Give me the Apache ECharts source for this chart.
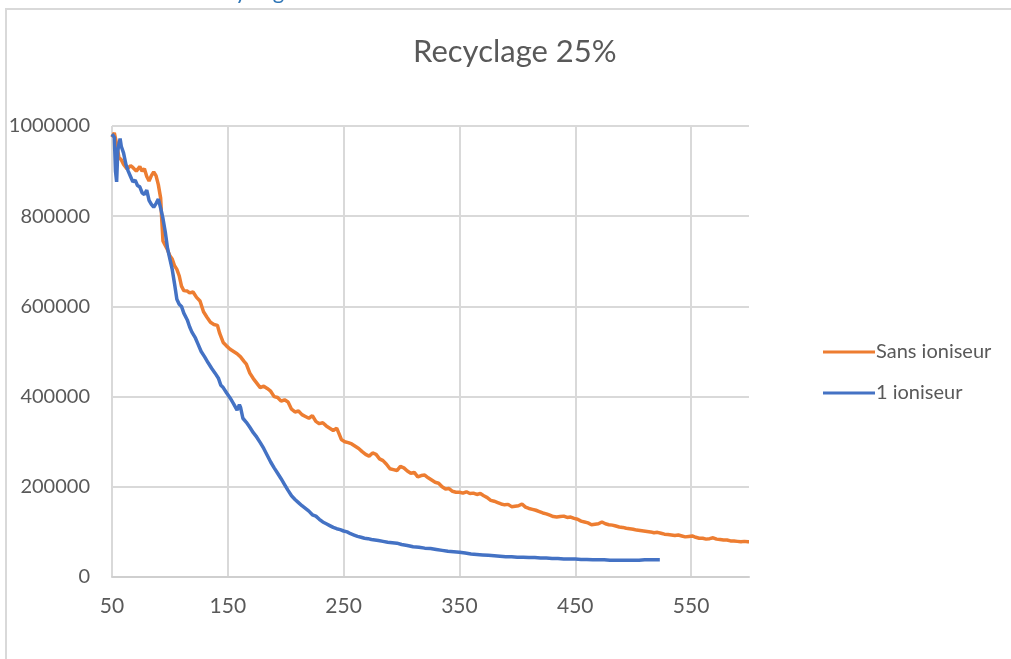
<!DOCTYPE html>
<html>
<head>
<meta charset="utf-8">
<script src="https://cdn.jsdelivr.net/npm/echarts@6/dist/echarts.min.js"></script>
<style>
html,body{margin:0;padding:0;background:#fff;}
#chart{width:1011px;height:659px;}
</style>
</head>
<body>
<div id="chart"></div>
<script>
var titleText = 'Recyclage 25%';
var seriesNames = ['Sans ioniseur', '1 ioniseur'];
var xTicks = [50, 150, 250, 350, 450, 550];
var yTicks = [0, 200000, 400000, 600000, 800000, 1000000];

var sansX = [50,52,54,56,58,60,63,66,68,71,74,76,78,80,82,84,86,88,90,92,93,94,96,98,100,102,104,106,108,110,112,115,117,120,123,126,129,132,135,138,141,143,146,149,152,155,158,161,164,166,169,172,175,178,181,184,187,190,193,196,199,202,205,208,211,214,217,220,223,226,229,232,235,238,241,244,246,248,251,254,257,260,263,266,269,272,275,278,281,284,287,290,293,296,299,302,305,308,311,314,317,320,323,326,329,332,335,338,341,344,347,350,353,356,359,362,365,368,371,374,377,380,383,386,389,392,395,398,401,404,407,410,413,416,419,422,425,428,431,434,437,440,443,446,449,452,455,458,461,464,467,470,473,476,479,482,485,488,491,494,497,500,503,506,509,512,515,518,521,524,527,530,533,536,539,542,545,548,551,554,557,560,563,566,569,572,575,578,581,584,587,590,593,596,599,600];
var sansY = [975000,985000,960000,930000,925000,915000,905000,912000,908000,900000,910000,900000,905000,888000,878000,890000,898000,890000,870000,840000,790000,745000,735000,725000,712000,705000,690000,682000,668000,645000,635000,634000,630000,632000,620000,612000,588000,576000,565000,560000,558000,540000,520000,512000,505000,500000,495000,488000,478000,472000,452000,440000,430000,420000,423000,418000,412000,400000,398000,390000,393000,388000,372000,366000,368000,360000,356000,352000,358000,345000,340000,342000,335000,330000,325000,330000,318000,305000,300000,298000,295000,290000,285000,278000,272000,268000,275000,272000,262000,258000,250000,240000,238000,236000,245000,242000,235000,230000,232000,222000,225000,226000,220000,215000,210000,208000,200000,195000,196000,190000,188000,188000,186000,189000,185000,186000,183000,185000,180000,176000,170000,168000,165000,162000,160000,161000,156000,157000,158000,162000,155000,152000,150000,148000,145000,142000,140000,137000,134000,133000,134000,135000,132000,133000,130000,128000,124000,122000,120000,116000,117000,118000,122000,118000,116000,115000,113000,111000,110000,108000,107000,106000,104000,103000,102000,101000,100000,98000,99000,97000,95000,94000,93000,92000,93000,91000,89000,90000,91000,88000,86000,86000,84000,85000,87000,84000,83000,82000,82000,80000,80000,79000,78000,79000,78000,78000];

var ionX = [50,51,52,53,54,55,56,57,58,60,62,64,66,68,70,72,74,76,78,80,82,84,86,88,90,92,94,96,98,100,102,104,106,108,110,112,115,117,119,122,124,127,130,133,136,139,142,144,146,149,152,155,158,160,161,163,166,169,172,175,178,181,184,187,190,193,196,199,202,205,208,211,214,217,220,223,226,229,232,235,238,241,244,247,250,253,256,259,262,265,268,271,274,277,280,284,288,292,296,300,305,310,315,320,325,330,335,340,345,350,355,360,365,370,375,380,385,390,395,400,405,410,415,420,425,430,435,440,445,450,455,460,465,470,475,480,485,490,495,500,505,510,515,520,523];
var ionY = [982000,985000,975000,900000,876000,945000,960000,972000,955000,940000,915000,900000,888000,876000,880000,868000,865000,852000,848000,858000,835000,826000,820000,828000,838000,818000,795000,765000,728000,705000,682000,650000,616000,605000,600000,585000,570000,555000,543000,530000,518000,500000,488000,475000,463000,452000,440000,425000,420000,408000,397000,384000,370000,382000,376000,352000,343000,332000,320000,310000,298000,285000,270000,255000,242000,230000,218000,205000,192000,180000,172000,165000,158000,152000,146000,138000,135000,128000,122000,118000,114000,110000,107000,105000,102000,100000,96000,93000,90000,88000,86000,85000,83000,82000,81000,79000,77000,76000,75000,72000,70000,67000,66000,64000,63000,61000,59000,57000,56000,55000,53000,51000,50000,49000,48000,47000,46000,45000,45000,44000,44000,43000,43000,42000,42000,41000,41000,40000,40000,40000,39000,39000,38000,38000,38000,37000,37000,37000,37000,37000,37000,38000,38000,38000,38000];

function zip(xs, ys) { return xs.map(function (x, i) { return [x, ys[i]]; }); }

var FONT = 'Lato';
var GRAY = '#595959';
var GRID = '#d9d9d9';

var chart = echarts.init(document.getElementById('chart'), null, {renderer: 'canvas'});
chart.setOption({
  animation: false,
  backgroundColor: '#ffffff',
  title: {
    text: titleText,
    left: 408,
    top: 31,
    textStyle: {fontFamily: FONT, fontSize: 31, fontWeight: 'normal', color: GRAY}
  },
  graphic: [
    {type: 'rect', shape: {x: 6, y: 9, width: 1020, height: 700}, style: {fill: 'none', stroke: GRID, lineWidth: 2}, silent: true},
    {type: 'text', x: 200, y: 3, style: {text: 'Recyclage', font: '22px ' + FONT, fill: '#2e75b6', textVerticalAlign: 'bottom'}, silent: true}
  ],
  legend: {
    orient: 'vertical',
    left: 818,
    top: 337,
    itemWidth: 52,
    itemHeight: 3,
    itemGap: 21,
    icon: 'rect',
    data: seriesNames,
    textStyle: {fontFamily: FONT, fontSize: 20, color: GRAY, padding: [0, 0, 0, -4]}
  },
  grid: {left: 112, right: 262, top: 126, bottom: 82, containLabel: false, outerBoundsMode: 'none'},
  xAxis: {
    type: 'value',
    min: xTicks[0],
    max: 600,
    interval: 100,
    axisLine: {show: true, lineStyle: {color: '#cfcfcf', width: 2}},
    axisTick: {show: false},
    axisLabel: {
      fontFamily: FONT, fontSize: 21, color: GRAY, margin: 19,
      formatter: function (v) { return xTicks.indexOf(v) >= 0 ? String(v) : ''; }
    },
    splitLine: {show: true, lineStyle: {color: [GRID, GRID, GRID, GRID, GRID, GRID, 'rgba(0,0,0,0)'], width: 2}}
  },
  yAxis: {
    type: 'value',
    min: yTicks[0],
    max: yTicks[yTicks.length - 1],
    interval: 200000,
    axisLine: {show: false},
    axisTick: {show: false},
    axisLabel: {
      fontFamily: FONT, fontSize: 20, color: GRAY, margin: 22,
      formatter: function (v) { return String(v); }
    },
    splitLine: {show: true, lineStyle: {color: GRID, width: 2}}
  },
  series: [
    {
      name: seriesNames[0], type: 'line', showSymbol: false, symbol: 'none',
      data: zip(sansX, sansY),
      lineStyle: {color: '#ED7D31', width: 3.5}, itemStyle: {color: '#ED7D31'}
    },
    {
      name: seriesNames[1], type: 'line', showSymbol: false, symbol: 'none',
      data: zip(ionX, ionY),
      lineStyle: {color: '#4472C4', width: 3.5}, itemStyle: {color: '#4472C4'}
    }
  ]
});
</script>
</body>
</html>
